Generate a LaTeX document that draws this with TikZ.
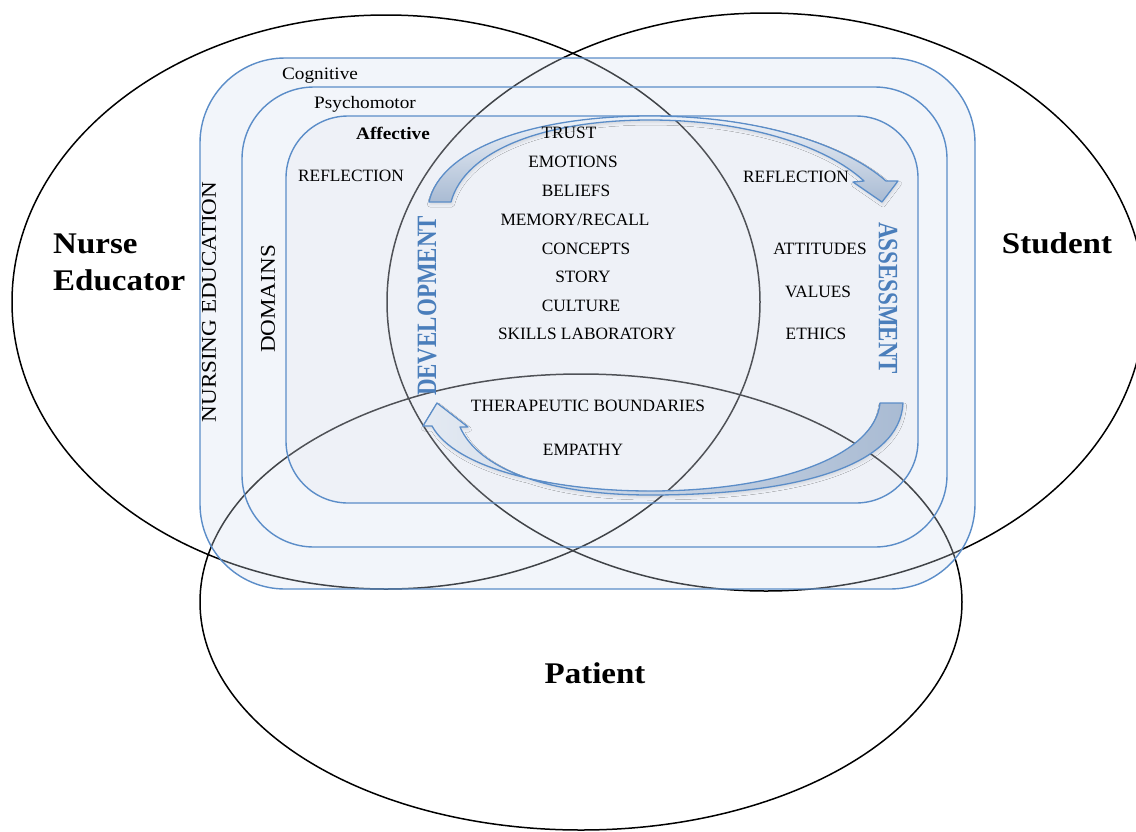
\documentclass[tikz,border=0pt]{standalone}
\usepackage{fontspec}
\setmainfont{Liberation Serif}
\newfontfamily\widefont{Liberation Serif}[FakeStretch=1.1]
\newfontfamily\narrowfont{Liberation Serif}[FakeStretch=0.82]
\usetikzlibrary{shadows.blur}

\definecolor{ringblue}{HTML}{5B8DC8}
\definecolor{bandfill}{HTML}{D6E1EF}
\definecolor{corefill}{HTML}{D4D4E0}
\definecolor{wordblue}{HTML}{4A7EBB}
\definecolor{arrowlight}{HTML}{EEF2F8}
\definecolor{arrowdark}{HTML}{A9BBD3}

\tikzset{
  venncircle/.style={draw=black, line width=1.5pt},
  domainband/.style={draw=ringblue, line width=1.4pt},
  blockarrow/.style={draw=ringblue, line width=1.3pt, line join=round,
    blur shadow={shadow xshift=1pt, shadow yshift=-2.5pt, shadow opacity=10, shadow blur radius=2.5pt}},
  itemtext/.style={inner sep=0pt, font=\fontsize{17.3}{20}\selectfont},
  domaintext/.style={inner sep=0pt, font=\widefont\fontsize{17.5}{20}\selectfont},
  sidetext/.style={inner sep=0pt, font=\widefont\fontsize{21}{24}\selectfont},
  phasetext/.style={inner sep=0pt, text=wordblue, font=\narrowfont\bfseries\fontsize{28}{30}\selectfont},
  actortext/.style={inner sep=0pt, font=\widefont\bfseries\fontsize{30}{37}\selectfont}
}

\begin{document}
\begin{tikzpicture}[x=1pt, y=-1pt]
\fill[white] (0,0) rectangle (1136,831);
\useasboundingbox (0,0) rectangle (1136,831);

% the three overlapping circles of the model
\draw[venncircle] (386,302) ellipse [x radius=374pt, y radius=287pt];
\draw[venncircle] (766,302) ellipse [x radius=379pt, y radius=289pt];
\draw[venncircle] (581,602) ellipse [x radius=381pt, y radius=228pt];

% nested learning domains
\path[domainband, fill=bandfill, fill opacity=0.3, rounded corners=85pt] (200,58) rectangle (975,589);
\path[domainband, rounded corners=72pt] (242,87) rectangle (947,547);
\path[domainband, fill=corefill, fill opacity=0.1, rounded corners=62pt] (286,116) rectangle (918,503);

% curved block arrow: development -> assessment
\path[blockarrow, top color=arrowlight, bottom color=arrowdark]
  (429,202)
  .. controls (440,150) and (530,116) .. (650,116)
  .. controls (760,116) and (845,145) .. (886,181)
  -- (898,181) -- (882,202) -- (853,182) -- (864,181)
  .. controls (825,145) and (745,120) .. (650,120)
  .. controls (545,120) and (465,150) .. (451,202) -- cycle;

% curved block arrow: assessment -> development
\path[blockarrow, left color=arrowlight!85!arrowdark, right color=arrowdark]
  (903,403)
  .. controls (900,465) and (800,495) .. (650,495)
  .. controls (545,495) and (478,468) .. (460,427)
  -- (468,427) -- (437,403) -- (423,426) -- (432,426)
  .. controls (455,468) and (550,491) .. (650,491)
  .. controls (780,491) and (875,455) .. (880,403) -- cycle;

% domain labels
\node[domaintext] (cog) at (320,76) {Cognitive};
\node[domaintext] (psy) at (365,104) {Psychomotor};
\node[domaintext, font=\widefont\bfseries\fontsize{17.5}{20}\selectfont] (aff) at (393,133) {Affective};

\node[sidetext, rotate=90] (nursing) at (209,302) {NURSING EDUCATION};
\node[sidetext, rotate=90] (domains) at (268,299) {DOMAINS};

\node[phasetext, rotate=90] (dev) at (427,306) {DEVELOPMENT};
\node[phasetext, rotate=-90] (ass) at (888,298) {ASSESSMENT};

% affective content
\node[itemtext] (refl1) at (351,176) {REFLECTION};
\node[itemtext] (refl2) at (796,177) {REFLECTION};
\node[itemtext] (trust) at (569,133) {TRUST};
\node[itemtext] (emot) at (573,162) {EMOTIONS};
\node[itemtext] (belief) at (576,191) {BELIEFS};
\node[itemtext] (memory) at (575,220) {MEMORY/RECALL};
\node[itemtext] (concept) at (586,249) {CONCEPTS};
\node[itemtext] (story) at (583,277) {STORY};
\node[itemtext] (culture) at (581,306) {CULTURE};
\node[itemtext] (skills) at (587,334) {SKILLS LABORATORY};
\node[itemtext] (thera) at (588,406) {THERAPEUTIC BOUNDARIES};
\node[itemtext] (empathy) at (583,450) {EMPATHY};
\node[itemtext] (attit) at (820,249) {ATTITUDES};
\node[itemtext] (values) at (818,292) {VALUES};
\node[itemtext] (ethics) at (816,334) {ETHICS};

% the three participants
\node[actortext, align=left, anchor=west] (educator) at (53,262) {Nurse\\Educator};
\node[actortext] (student) at (1057,243) {Student};
\node[actortext] (patient) at (595,673) {Patient};
\end{tikzpicture}
\end{document}
